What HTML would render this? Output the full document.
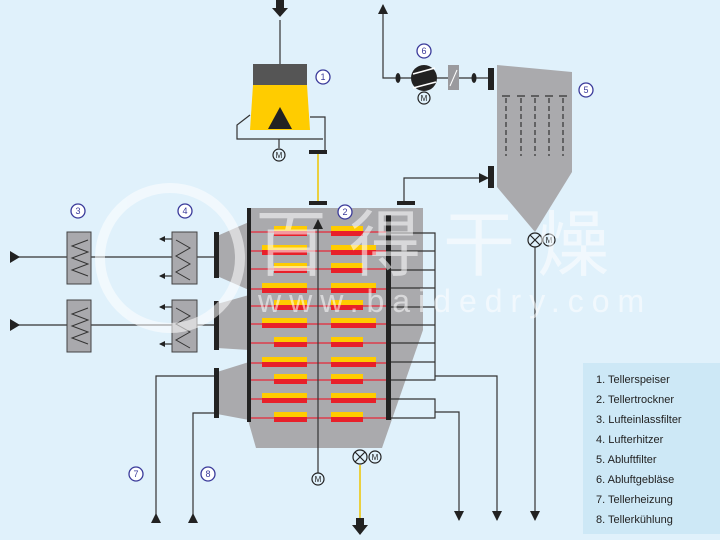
<!DOCTYPE html>
<html><head><meta charset="utf-8"><style>
html,body{margin:0;padding:0;background:#e0f1fb;}
svg{display:block}
text{font-family:"Liberation Sans",sans-serif}
</style></head><body>
<svg width="720" height="540" viewBox="0 0 720 540" xmlns="http://www.w3.org/2000/svg">
<defs>
<marker id="ah" markerWidth="10" markerHeight="10" refX="9" refY="5" orient="auto" markerUnits="userSpaceOnUse"><path d="M0,0 L10,5 L0,10 Z" fill="#222"/></marker>
<marker id="ahs" markerWidth="6" markerHeight="6" refX="5" refY="3" orient="auto" markerUnits="userSpaceOnUse"><path d="M0,0 L6,3 L0,6 Z" fill="#222"/></marker>
</defs>
<rect width="720" height="540" fill="#e0f1fb"/>
<!-- legend -->
<rect x="583" y="363" width="137" height="171" fill="#cde8f6"/>
<g font-size="11" fill="#222">
<text x="596" y="383">1. Tellerspeiser</text>
<text x="596" y="403">2. Tellertrockner</text>
<text x="596" y="423">3. Lufteinlassfilter</text>
<text x="596" y="443">4. Lufterhitzer</text>
<text x="596" y="463">5. Abluftfilter</text>
<text x="596" y="483">6. Abluftgebläse</text>
<text x="596" y="503">7. Tellerheizung</text>
<text x="596" y="523">8. Tellerkühlung</text>
</g>
<!-- gray funnels left -->
<g fill="#aaaaad">
<polygon points="217,236 249,222 249,290 217,276"/>
<polygon points="217,304 249,295 249,350 217,348"/>
<polygon points="217,372 249,362 249,420 217,414"/>
</g>
<!-- dryer body -->
<polygon points="248,208 423,208 423,330 382,448 256,448 248,420" fill="#aaaaad"/>
<g stroke="#e8283a" stroke-width="1.2">
<line x1="251" y1="232" x2="386" y2="232"/><line x1="251" y1="251" x2="386" y2="251"/><line x1="251" y1="269" x2="386" y2="269"/><line x1="251" y1="289" x2="386" y2="289"/><line x1="251" y1="306" x2="386" y2="306"/><line x1="251" y1="324" x2="386" y2="324"/><line x1="251" y1="343" x2="386" y2="343"/><line x1="251" y1="363" x2="386" y2="363"/><line x1="251" y1="380" x2="386" y2="380"/><line x1="251" y1="399" x2="386" y2="399"/><line x1="251" y1="418" x2="386" y2="418"/>
</g>
<g>
<g fill="#ffcc00">
<rect x="274" y="226" width="33" height="5"/><rect x="331" y="226" width="32" height="5"/>
<rect x="262" y="245" width="45" height="5"/><rect x="331" y="245" width="45" height="5"/>
<rect x="274" y="263" width="33" height="5"/><rect x="331" y="263" width="32" height="5"/>
<rect x="262" y="283" width="45" height="5"/><rect x="331" y="283" width="45" height="5"/>
<rect x="274" y="300" width="33" height="5"/><rect x="331" y="300" width="32" height="5"/>
<rect x="262" y="318" width="45" height="5"/><rect x="331" y="318" width="45" height="5"/>
<rect x="274" y="337" width="33" height="5"/><rect x="331" y="337" width="32" height="5"/>
<rect x="262" y="357" width="45" height="5"/><rect x="331" y="357" width="45" height="5"/>
<rect x="274" y="374" width="33" height="5"/><rect x="331" y="374" width="32" height="5"/>
<rect x="262" y="393" width="45" height="5"/><rect x="331" y="393" width="45" height="5"/>
<rect x="274" y="412" width="33" height="5"/><rect x="331" y="412" width="32" height="5"/>
</g>
<g fill="#e8202a">
<rect x="274" y="231" width="33" height="5"/><rect x="331" y="231" width="32" height="5"/>
<rect x="262" y="250" width="45" height="5"/><rect x="331" y="250" width="45" height="5"/>
<rect x="274" y="268" width="33" height="5"/><rect x="331" y="268" width="32" height="5"/>
<rect x="262" y="288" width="45" height="5"/><rect x="331" y="288" width="45" height="5"/>
<rect x="274" y="305" width="33" height="5"/><rect x="331" y="305" width="32" height="5"/>
<rect x="262" y="323" width="45" height="5"/><rect x="331" y="323" width="45" height="5"/>
<rect x="274" y="342" width="33" height="5"/><rect x="331" y="342" width="32" height="5"/>
<rect x="262" y="362" width="45" height="5"/><rect x="331" y="362" width="45" height="5"/>
<rect x="274" y="379" width="33" height="5"/><rect x="331" y="379" width="32" height="5"/>
<rect x="262" y="398" width="45" height="5"/><rect x="331" y="398" width="45" height="5"/>
<rect x="274" y="417" width="33" height="5"/><rect x="331" y="417" width="32" height="5"/>
</g>
</g>
<!-- bars -->
<g fill="#222">
<rect x="247" y="208" width="4" height="214"/>
<rect x="386" y="215" width="5" height="205"/>
<rect x="214" y="232" width="5" height="46"/>
<rect x="214" y="301" width="5" height="49"/>
<rect x="214" y="368" width="5" height="50"/>
<rect x="309" y="201" width="18" height="4"/>
<rect x="397" y="201" width="18" height="4"/>
<rect x="488" y="68" width="6" height="22"/>
<rect x="488" y="166" width="6" height="22"/>
</g>
<!-- connectors -->
<g stroke="#333" stroke-width="1.2" fill="none">
<path d="M391,233 H435 V380 H391 M391,251 H435 M391,270 H435 M391,288 H435 M391,307 H435 M391,325 H435 M391,343 H435 M391,362 H435"/>
<path d="M391,399 H435 V418 H391"/>
<path d="M435,376 H497 V520" marker-end="url(#ah)"/>
<path d="M435,412 H459 V520" marker-end="url(#ah)"/>
<path d="M535,247 V520" marker-end="url(#ah)"/>
<path d="M214,376 H156 V516"/>
<path d="M214,413 H193 V516"/>
<path d="M318,473 V220" marker-end="url(#ah)"/>
<path d="M404,201 V178 H488" marker-end="url(#ah)"/>
<path d="M488,78 H383 V5" marker-end="url(#ah)"/>
<path d="M280,64 V20"/>
<path d="M250,115 L237,125 V139 H323 M279,139 V148 M310,117 H325 V150"/>
<path d="M10,257 H214"/><path d="M10,325 H214"/>
<path d="M197,239 H160" marker-end="url(#ahs)"/><path d="M197,276 H160" marker-end="url(#ahs)"/>
<path d="M197,307 H160" marker-end="url(#ahs)"/><path d="M197,344 H160" marker-end="url(#ahs)"/>
</g>
<g fill="#222">
<polygon points="151,523 161,523 156,513"/><polygon points="188,523 198,523 193,513"/>
<polygon points="10,251 20,257 10,263"/><polygon points="10,319 20,325 10,331"/>
<polygon points="276,0 284,0 284,8 288,8 280,17 272,8 276,8"/>
<polygon points="356,518 364,518 364,525 368,525 360,535 352,525 356,525"/>
</g>
<g stroke="#eec400" stroke-width="1.5"><line x1="318" y1="154" x2="318" y2="201"/><line x1="360" y1="465" x2="360" y2="518"/></g>
<!-- filters -->
<g stroke="#444" fill="#a9a9ad">
<rect x="67" y="232" width="24" height="52"/><rect x="67" y="300" width="24" height="52"/>
<rect x="172" y="232" width="25" height="52"/><rect x="172" y="300" width="25" height="52"/>
</g>
<g stroke="#333" fill="none" stroke-width="1">
<path d="M88,240 L72,246 L88,252 L72,258 L88,264 L72,270 L88,276"/>
<path d="M88,308 L72,314 L88,320 L72,326 L88,332 L72,338 L88,344"/>
<path d="M176,240 L190,248 L176,256 L190,264 L176,272 L190,280"/>
<path d="M176,308 L190,316 L176,324 L190,332 L176,340 L190,348"/>
</g>
<!-- feeder -->
<polygon points="253,64 307,64 307,85 253,85" fill="#555"/>
<polygon points="253,85 307,85 310,130 250,130" fill="#ffcc00"/>
<polygon points="280,107 292,129 268,129" fill="#222"/>
<rect x="309" y="150" width="18" height="4" fill="#222"/>
<!-- filter 5 -->
<polygon points="497,65 572,72 572,172 535,232 497,187" fill="#aaaaad"/>
<g stroke="#333" stroke-width="1.2">
<g stroke-dasharray="5,3"><line x1="506" y1="98" x2="506" y2="156"/><line x1="521" y1="98" x2="521" y2="156"/><line x1="535" y1="98" x2="535" y2="156"/><line x1="549" y1="98" x2="549" y2="156"/><line x1="563" y1="98" x2="563" y2="156"/></g>
<path d="M502,96 h8 M517,96 h8 M531,96 h8 M545,96 h8 M559,96 h8"/>
</g>
<!-- fan -->
<circle cx="424" cy="78" r="13" fill="#222"/>
<path d="M413,74 L435,68 M413,88 L436,82" stroke="#fff" stroke-width="1.5"/>
<ellipse cx="398" cy="78" rx="2.5" ry="5" fill="#222"/><ellipse cx="474" cy="78" rx="2.5" ry="5" fill="#222"/>
<rect x="448" y="65" width="11" height="25" fill="#9a9a9e"/>
<line x1="450" y1="86" x2="457" y2="70" stroke="#fff"/>
<!-- motors & valves -->
<g fill="none" stroke="#222" stroke-width="1.2">
<circle cx="424" cy="98" r="6"/><circle cx="279" cy="155" r="6"/><circle cx="318" cy="479" r="6"/>
<circle cx="549" cy="240" r="6"/><circle cx="375" cy="457" r="6"/>
<circle cx="535" cy="240" r="7"/><path d="M530,235 L540,245 M540,235 L530,245"/>
<circle cx="360" cy="457" r="7"/><path d="M355,452 L365,462 M365,452 L355,462"/>
</g>
<g font-size="8" fill="#222" text-anchor="middle">
<text x="424" y="101">M</text><text x="279" y="158">M</text><text x="318" y="482">M</text><text x="549" y="243">M</text><text x="375" y="460">M</text>
</g>
<!-- numbers -->
<g fill="#fff" stroke="#3a3a9a" stroke-width="1.3">
<circle cx="323" cy="77" r="7"/><circle cx="345" cy="212" r="7"/><circle cx="78" cy="211" r="7"/><circle cx="185" cy="211" r="7"/>
<circle cx="586" cy="90" r="7"/><circle cx="424" cy="51" r="7"/><circle cx="136" cy="474" r="7"/><circle cx="208" cy="474" r="7"/>
</g>
<g font-size="9" fill="#3a3a9a" text-anchor="middle">
<text x="323" y="80">1</text><text x="345" y="215">2</text><text x="78" y="214">3</text><text x="185" y="214">4</text>
<text x="586" y="93">5</text><text x="424" y="54">6</text><text x="136" y="477">7</text><text x="208" y="477">8</text>
</g>
<!-- watermark -->
<g opacity="0.55" fill="#ffffff">
<circle cx="170" cy="258" r="70" fill="none" stroke="#fff" stroke-width="10"/>
<text x="255" y="270" font-size="72" font-family="'Liberation Serif','Noto Serif CJK SC',serif" letter-spacing="22">百得干燥</text>
<text x="258" y="312" font-size="32" letter-spacing="8">www.baidedry.com</text>
</g>
</svg>
</body></html>
